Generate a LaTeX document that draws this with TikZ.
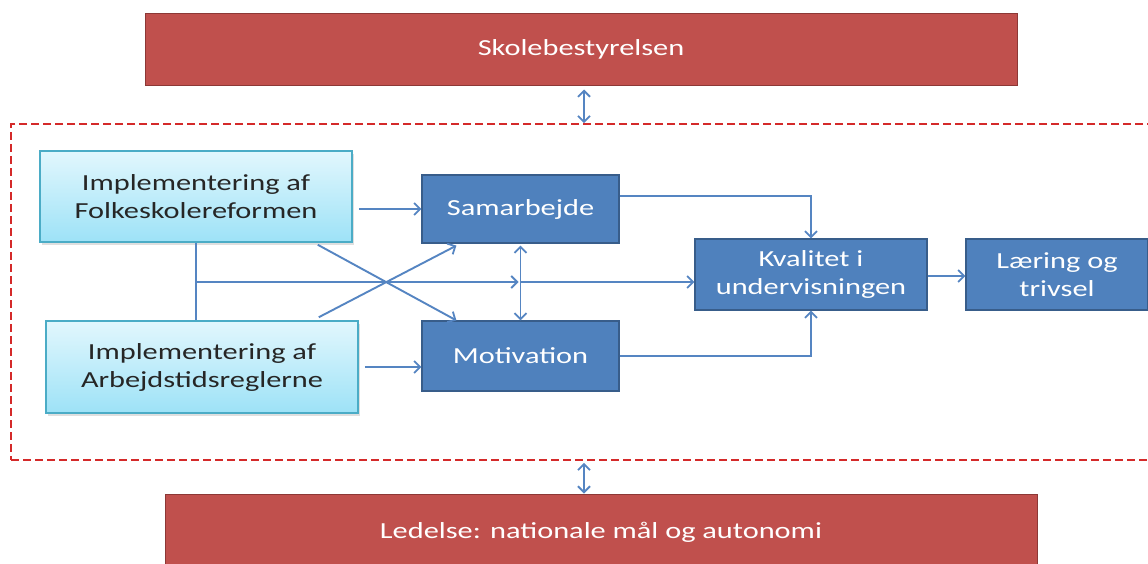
\documentclass[tikz,border=0pt]{standalone}
\usepackage{fontspec}
\setmainfont{Carlito}[FakeStretch=1.32]
\usetikzlibrary{arrows.meta,shadows}
\definecolor{redfill}{HTML}{C0504D}
\definecolor{redline}{HTML}{8C3836}
\definecolor{bluefill}{HTML}{4F81BD}
\definecolor{blueline}{HTML}{385D8A}
\definecolor{ltop}{HTML}{E2F7FD}
\definecolor{lbot}{HTML}{9DE2F7}
\definecolor{lline}{HTML}{4BACC6}
\definecolor{dashred}{HTML}{D42A2A}
\definecolor{arrcol}{HTML}{5585C2}
\definecolor{darktext}{HTML}{262626}
\begin{document}
\begin{tikzpicture}[x=1pt,y=-1pt,
  font=\fontsize{23}{28}\selectfont,
  redbox/.style={draw=redline, fill=redfill, text=white, line width=1pt, inner sep=0pt, minimum width=872pt},
  bluebox/.style={draw=blueline, fill=bluefill, text=white, line width=1.2pt, inner sep=0pt, align=center},
  lightbox/.style={draw=lline, top color=ltop, bottom color=lbot, text=darktext, line width=1.5pt, inner sep=0pt, align=center,
     minimum width=312pt, drop shadow={opacity=0.25, shadow xshift=2pt, shadow yshift=-3pt}},
  dashbox/.style={draw=dashred, line width=1.6pt, dash pattern=on 8pt off 4pt, inner sep=0pt},
  tip/.tip={Straight Barb[length=6pt,width=12pt,line width=1.8pt]},
  arr/.style={draw=arrcol, line width=1.9pt, -tip},
  dbl/.style={draw=arrcol, line width=1.9pt, tip-tip},
  ln/.style={draw=arrcol, line width=1.9pt}
]
\useasboundingbox (0,0) rectangle (1148,563);
\clip (0,0) rectangle (1148,563);
\fill[white] (0,0) rectangle (1148,563);

% frame
\node[dashbox, minimum width=1160pt, minimum height=336pt] (frame) at (591,292) {};

% red boxes
\node[redbox, minimum height=72pt] (top) at (581,49) {Skolebestyrelsen};
\node[redbox, minimum height=84pt, text depth=12pt] (bot) at (601,536) {Ledelse: nationale mål og autonomi};

% light boxes
\node[lightbox, minimum height=91pt] (fr) at (196,196.5) {Implementering af\\Folkeskolereformen};
\node[lightbox, minimum height=92pt] (ar) at (202,367) {Implementering af\\Arbejdstidsreglerne};

% blue boxes
\node[bluebox, minimum width=197pt, minimum height=68pt] (sam) at (520.5,209) {Samarbejde};
\node[bluebox, minimum width=197pt, minimum height=70pt] (mot) at (520.5,356) {Motivation};
\node[bluebox, minimum width=232pt, minimum height=71pt] (kv) at (811,274.5) {Kvalitet i\\undervisningen};
\node[bluebox, minimum width=182pt, minimum height=71pt] (lae) at (1057,274.5) {Læring og\\trivsel};

% vertical double arrows
\coordinate (ax) at (584,0);
\draw[dbl] ([yshift=-4pt]top.south -| ax) -- (frame.north -| ax);
\draw[dbl] ([yshift=-2pt]frame.south -| ax) -- (bot.north -| ax);

% connectors
\draw[arr] ([xshift=6pt]fr.east |- sam.west) -- (sam.west);
\draw[arr] ([xshift=6pt]ar.east |- 0,367) -- (mot.west |- 0,367);
\draw[ln] (fr.south) -- (fr.south |- ar.north);
\coordinate (j) at (196,282);
\draw[arr] (j) -- ([xshift=-2pt]sam.south |- j);
\draw[arr] (sam.south |- j) -- (kv.west |- j);
\draw[arr] ([xshift=-35pt,yshift=-2pt]fr.south east) -- ([xshift=35pt]mot.north west);
\draw[arr] ([xshift=-40pt,yshift=3pt]ar.north east) -- ([xshift=35pt,yshift=-2pt]sam.south west);
\draw[dbl] ([yshift=-2pt]sam.south) -- (mot.north);
\draw[arr] ([yshift=13pt]sam.east) -| (kv.north);
\draw[arr] (mot.east) -| (kv.south);
\draw[arr] ([yshift=-1.5pt]kv.east) -- ([yshift=-1.5pt]lae.west);
\end{tikzpicture}
\end{document}
